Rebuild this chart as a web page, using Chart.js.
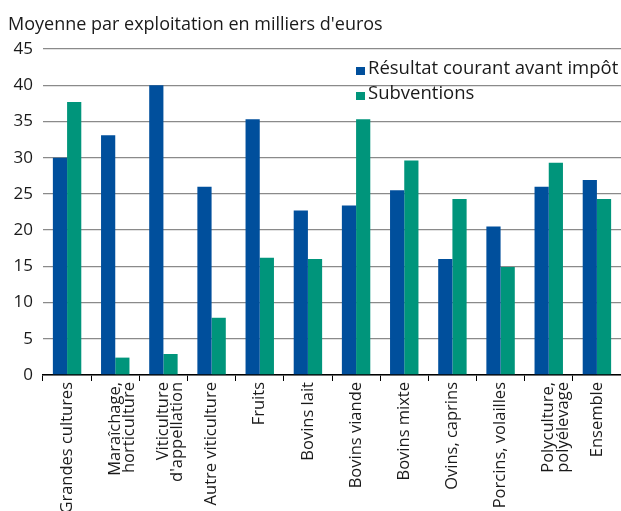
<!DOCTYPE html>
<html>
<head>
<meta charset="utf-8">
<script src="https://cdn.jsdelivr.net/npm/chart.js@4/dist/chart.umd.min.js"></script>
<style>
html,body{margin:0;padding:0;background:#fff;}
#wrap{width:621px;height:511px;position:relative;}
</style>
</head>
<body>
<div id="wrap"><canvas id="c" width="621" height="511"></canvas></div>
<script>
const titleText = "Moyenne par exploitation en milliers d'euros";
const categories = [
  "Grandes cultures",
  ["Maraîchage,", "horticulture"],
  ["Viticulture", "d'appellation"],
  "Autre viticulture",
  "Fruits",
  "Bovins lait",
  "Bovins viande",
  "Bovins mixte",
  "Ovins, caprins",
  "Porcins, volailles",
  ["Polyculture,", "polyélevage"],
  "Ensemble"
];
const resultatLabel = "Résultat courant avant impôt";
const subventionsLabel = "Subventions";
const resultat = [30.0, 33.1, 40.0, 26.0, 35.3, 22.7, 23.4, 25.5, 16.0, 20.5, 26.0, 26.9];
const subventions = [37.7, 2.4, 2.9, 7.9, 16.2, 16.0, 35.3, 29.6, 24.3, 14.9, 29.3, 24.3];
const yTicks = [0, 5, 10, 15, 20, 25, 30, 35, 40, 45];

const BLUE = '#004f9c';
const GREEN = '#00957b';
const FONT = "'Open Sans', sans-serif";

const overlay = {
  id: 'overlay',
  afterDraw(chart) {
    const ctx = chart.ctx;
    ctx.save();
    ctx.fillStyle = '#1a1a1a';
    ctx.font = "18px " + FONT;
    ctx.textBaseline = 'alphabetic';
    ctx.textAlign = 'left';
    ctx.fillText(titleText, 8, 30);
    // legend
    const items = chart.data.datasets;
    const x0 = 356, ys = [70, 95];
    items.forEach((ds, i) => {
      ctx.fillStyle = ds.backgroundColor;
      ctx.fillRect(x0, ys[i] - 3, 9, 8);
      ctx.fillStyle = '#1a1a1a';
      ctx.font = "18.5px " + FONT;
      ctx.textBaseline = 'middle';
      ctx.fillText(ds.label, x0 + 12, ys[i] - 1);
    });
    ctx.restore();
  }
};

new Chart(document.getElementById('c'), {
  type: 'bar',
  data: {
    labels: categories,
    datasets: [
      { label: resultatLabel, data: resultat, backgroundColor: BLUE, borderWidth: 0 },
      { label: subventionsLabel, data: subventions, backgroundColor: GREEN, borderWidth: 0 }
    ]
  },
  options: {
    responsive: false,
    animation: false,
    devicePixelRatio: 1,
    layout: { padding: { top: 49, left: 0, right: 0, bottom: 0 } },
    plugins: { legend: { display: false }, title: { display: false }, tooltip: { enabled: false } },
    datasets: { bar: { categoryPercentage: 0.59, barPercentage: 1.0 } },
    scales: {
      x: {
        afterFit(s) { s.height = 136; },
        grid: { display: true, drawOnChartArea: false, drawTicks: true, tickLength: 6, color: '#000', lineWidth: 1, offset: true },
        border: { display: true, color: '#000', width: 1.5 },
        ticks: {
          autoSkip: false, maxRotation: 90, minRotation: 90,
          color: '#1a1a1a', font: { family: FONT, size: 16.5, lineHeight: 0.86 }, padding: 1
        }
      },
      y: {
        min: 0, max: 45,
        afterFit(s) { s.width = 43; },
        afterBuildTicks(s) { s.ticks = yTicks.map(v => ({ value: v })); },
        grid: { color: '#8a8a8a', lineWidth: 1.3, drawTicks: false },
        border: { display: false },
        ticks: { color: '#1a1a1a', font: { family: FONT, size: 17 }, padding: 10 }
      }
    }
  },
  plugins: [overlay]
});
</script>
</body>
</html>
